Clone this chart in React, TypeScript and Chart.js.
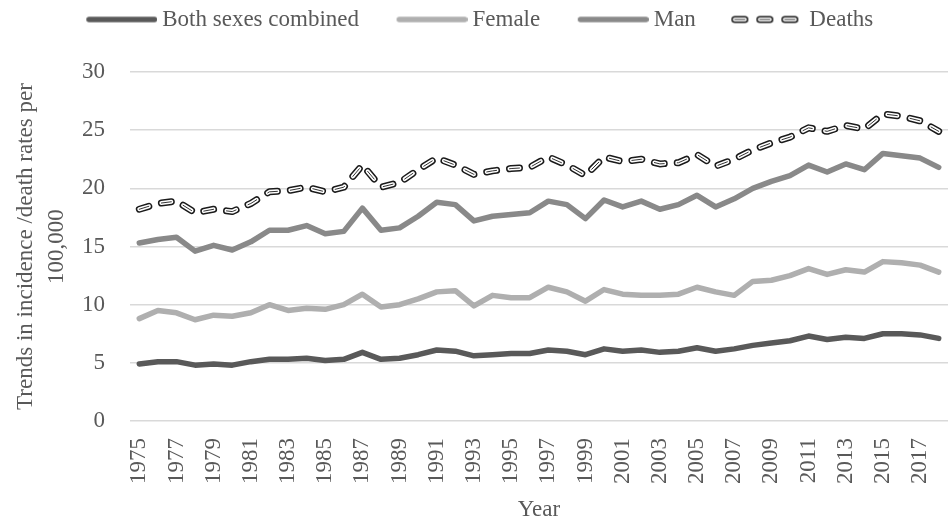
import React, { useEffect, useRef } from 'react';
import { Chart, registerables } from 'chart.js';

Chart.register(...registerables);

const years = [
  '1975', '1976', '1977', '1978', '1979', '1980', '1981', '1982', '1983', '1984',
  '1985', '1986', '1987', '1988', '1989', '1990', '1991', '1992', '1993', '1994',
  '1995', '1996', '1997', '1998', '1999', '2000', '2001', '2002', '2003', '2004',
  '2005', '2006', '2007', '2008', '2009', '2010', '2011', '2012', '2013', '2014',
  '2015', '2016', '2017', '2018',
];

const bothSexes = [
  4.9, 5.1, 5.1, 4.8, 4.9, 4.8, 5.1, 5.3, 5.3, 5.4,
  5.2, 5.3, 5.9, 5.3, 5.4, 5.7, 6.1, 6.0, 5.6, 5.7,
  5.8, 5.8, 6.1, 6.0, 5.7, 6.2, 6.0, 6.1, 5.9, 6.0,
  6.3, 6.0, 6.2, 6.5, 6.7, 6.9, 7.3, 7.0, 7.2, 7.1,
  7.5, 7.5, 7.4, 7.1,
];

const female = [
  8.8, 9.5, 9.3, 8.7, 9.1, 9.0, 9.3, 10.0, 9.5, 9.7,
  9.6, 10.0, 10.9, 9.8, 10.0, 10.5, 11.1, 11.2, 9.9, 10.8,
  10.6, 10.6, 11.5, 11.1, 10.3, 11.3, 10.9, 10.8, 10.8, 10.9,
  11.5, 11.1, 10.8, 12.0, 12.1, 12.5, 13.1, 12.6, 13.0, 12.8,
  13.7, 13.6, 13.4, 12.8,
];

const man = [
  15.3, 15.6, 15.8, 14.6, 15.1, 14.7, 15.4, 16.4, 16.4, 16.8,
  16.1, 16.3, 18.3, 16.4, 16.6, 17.6, 18.8, 18.6, 17.2, 17.6,
  17.75, 17.9, 18.9, 18.6, 17.4, 19.0, 18.4, 18.9, 18.2, 18.6,
  19.4, 18.4, 19.1, 20.0, 20.6, 21.1, 22.0, 21.4, 22.1, 21.6,
  23.0, 22.8, 22.6, 21.8,
];

const deaths = [
  18.2, 18.7, 18.9, 17.9, 18.2, 18.0, 18.7, 19.7, 19.8, 20.1,
  19.7, 20.1, 22.0, 20.1, 20.5, 21.6, 22.6, 22.0, 21.2, 21.5,
  21.7, 21.8, 22.7, 22.0, 21.1, 22.7, 22.3, 22.5, 22.1, 22.2,
  22.9, 21.9, 22.5, 23.3, 23.9, 24.4, 25.2, 24.9, 25.4, 25.1,
  26.4, 26.2, 25.8, 24.9,
];

const seriesNames = ['Both sexes combined', 'Female', 'Man', 'Deaths'];
const seriesColors = ['#595959', '#afafaf', '#898989', '#1a1a1a'];
const yMin = 0;
const yMax = 30;
const yStep = 5;
const yTitle = ['Trends in incidence /death rates per', '100,000'];
const xTitle = 'Year';

const TEXT = '#595959';
const FONT = '"Liberation Serif", "Times New Roman", serif';
const FS = 23;
const BOX_W = 94;
const ICON_W = 107;
const DASH = [10, 13];

function lineIcon(color: string) {
  const c = document.createElement('canvas');
  c.width = ICON_W;
  c.height = 14;
  const ctx = c.getContext('2d')!;
  ctx.strokeStyle = color;
  ctx.lineWidth = 5.5;
  ctx.lineCap = 'round';
  ctx.beginPath();
  ctx.moveTo(ICON_W - 71 + 2.75, 7);
  ctx.lineTo(ICON_W - 2.75, 7);
  ctx.stroke();
  return c;
}

function deathsIcon() {
  const c = document.createElement('canvas');
  c.width = ICON_W;
  c.height = 14;
  const ctx = c.getContext('2d')!;
  ctx.lineCap = 'round';
  const layers: [string, number][] = [['#1a1a1a', 7], ['#ffffff', 4], ['#333333', 1]];
  for (const [col, w] of layers) {
    ctx.strokeStyle = col;
    ctx.lineWidth = w;
    for (let k = 0; k < 3; k++) {
      const start = ICON_W - 6 - 67 + k * 25;
      ctx.beginPath();
      ctx.moveTo(start + 3.5, 7);
      ctx.lineTo(start + 13.5, 7);
      ctx.stroke();
    }
  }
  return c;
}

const legendFitPlugin = {
  id: 'legendFit',
  beforeLayout(chart: any) {
    const lg = chart.legend;
    if (lg && !lg.__patched) {
      const orig = lg.fit.bind(lg);
      lg.fit = function () {
        orig();
        this.height = 72;
        if (this.lineWidths && this.lineWidths.length) this.lineWidths[0] += 28;
      };
      lg.__patched = true;
    }
  },
};

export default function App() {
  const ref = useRef<HTMLCanvasElement | null>(null);

  useEffect(() => {
    if (!ref.current) return;
    const icons = [
      lineIcon(seriesColors[0]),
      lineIcon(seriesColors[1]),
      lineIcon(seriesColors[2]),
      deathsIcon(),
    ];
    const solid = (label: string, data: number[], color: string) => ({
      label,
      data,
      borderColor: color,
      backgroundColor: color,
      borderWidth: 5.5,
      borderCapStyle: 'round' as const,
      borderJoinStyle: 'round' as const,
      pointRadius: 0,
      tension: 0,
      fill: false,
      order: 10,
    });
    const dashed = (label: string, color: string, width: number, order: number) => ({
      label,
      data: deaths,
      borderColor: color,
      backgroundColor: color,
      borderWidth: width,
      borderDash: DASH,
      borderCapStyle: 'round' as const,
      borderJoinStyle: 'round' as const,
      pointRadius: 0,
      tension: 0,
      fill: false,
      order,
    });

    const chart = new Chart(ref.current, {
      type: 'line',
      data: {
        labels: years,
        datasets: [
          solid(seriesNames[0], bothSexes, seriesColors[0]),
          solid(seriesNames[1], female, seriesColors[1]),
          solid(seriesNames[2], man, seriesColors[2]),
          dashed(seriesNames[3], seriesColors[3], 7, 3),
          dashed('_deathsWhite', '#ffffff', 4, 2),
          dashed('_deathsCore', '#333333', 1, 1),
        ],
      },
      plugins: [legendFitPlugin],
      options: {
        responsive: false,
        animation: false,
        layout: { padding: { left: 10, right: 0, top: 0, bottom: 3 } },
        font: { family: FONT, size: FS },
        plugins: {
          tooltip: { enabled: false },
          legend: {
            display: true,
            position: 'top',
            labels: {
              usePointStyle: true,
              pointStyleWidth: BOX_W,
              padding: 8,
              color: TEXT,
              font: { family: FONT, size: FS },
              generateLabels: () =>
                seriesNames.map((name, i) => ({
                  text: name,
                  pointStyle: icons[i] as any,
                  fillStyle: 'transparent',
                  strokeStyle: 'transparent',
                  lineWidth: 0,
                  hidden: false,
                  datasetIndex: i,
                  fontColor: TEXT,
                })),
            },
          },
        },
        scales: {
          x: {
            type: 'category',
            offset: true,
            grid: { display: false, drawTicks: false },
            border: { display: false },
            ticks: {
              autoSkip: false,
              minRotation: 90,
              maxRotation: 90,
              padding: 17,
              color: TEXT,
              font: { family: FONT, size: FS },
              callback: (_v: any, i: number) => (i % 2 === 0 ? years[i] : ''),
            },
            title: {
              display: true,
              text: xTitle,
              color: TEXT,
              font: { family: FONT, size: FS, lineHeight: 1.2 },
              padding: { top: 10, bottom: 0 },
            },
            afterFit: (s: any) => {
              s.paddingRight = 0;
              s.height = 103;
            },
          },
          y: {
            min: yMin,
            max: yMax,
            grid: { color: '#d9d9d9', lineWidth: 1.5, drawTicks: false },
            border: { display: false },
            ticks: {
              stepSize: yStep,
              padding: 25,
              color: TEXT,
              font: { family: FONT, size: FS },
            },
            title: {
              display: true,
              text: yTitle,
              color: TEXT,
              font: { family: FONT, size: FS, lineHeight: 1.35 },
              padding: { top: 0, bottom: 6 },
            },
            afterFit: (s: any) => {
              s.width = 120;
            },
          },
        },
      },
    });
    return () => chart.destroy();
  }, []);

  return (
    <div style={{ position: 'absolute', left: 0, top: 0, width: 948, height: 527 }}>
      <canvas ref={ref} width={948} height={527} style={{ display: 'block' }} />
    </div>
  );
}
